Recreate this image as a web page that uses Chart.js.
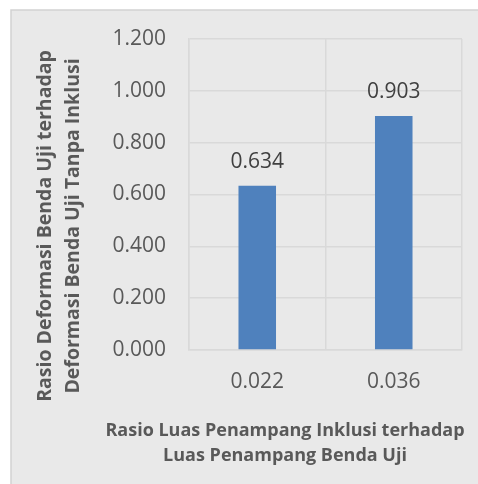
<!DOCTYPE html>
<html>
<head>
<meta charset="utf-8">
<script src="https://cdn.jsdelivr.net/npm/chart.js@4"></script>
<style>
  html, body { margin: 0; padding: 0; background: #fff; }
  #wrap { width: 478px; height: 484px; }
</style>
</head>
<body>
<div id="wrap"><canvas id="chartRasio" width="478" height="484"></canvas></div>
<script>
// data
const categories = ['0.022', '0.036'];
const rasioDeformasi = [0.634, 0.903];
const yTitleLines = ['Rasio Deformasi Benda Uji terhadap', 'Deformasi Benda Uji Tanpa Inklusi'];
const xTitleLines = ['Rasio Luas Penampang Inklusi terhadap', 'Luas Penampang Benda Uji'];

const fontName = '"Open Sans", sans-serif';
const gridColor = '#d9d9d9';

// gray chart box with a thin border on left/top
const boxPlugin = {
    id: 'box',
    beforeDraw(chart) {
        let ctx = chart.ctx;
        ctx.save();
        ctx.fillStyle = '#e9e9e9';
        ctx.fillRect(11, 10, chart.width - 11, chart.height - 10);
        ctx.strokeStyle = '#d2d2d2';
        ctx.lineWidth = 1.5;
        ctx.strokeRect(11, 10, chart.width - 10, chart.height - 9);
        ctx.restore();
    }
};

// value labels above bars + both axis titles
const labelPlugin = {
    id: 'labels',
    afterDatasetsDraw(chart) {
        let ctx = chart.ctx;
        ctx.save();
        ctx.font = '21px ' + fontName;
        ctx.fillStyle = '#404040';
        ctx.textAlign = 'center';
        ctx.textBaseline = 'alphabetic';
        chart.getDatasetMeta(0).data.forEach((bar, i) => {
            ctx.fillText(rasioDeformasi[i].toFixed(3), bar.x, bar.y - 18);
        });

        ctx.font = 'bold 18px ' + fontName;
        ctx.fillStyle = '#595959';
        ctx.textBaseline = 'middle';
        xTitleLines.forEach((line, i) => {
            ctx.fillText(line, 285, 431 + i * 25);
        });

        ctx.font = 'bold 19.5px ' + fontName;
        ctx.translate(0, 226);
        ctx.rotate(-Math.PI / 2);
        yTitleLines.forEach((line, i) => {
            ctx.fillText(line, 0, 45 + i * 28);
        });
        ctx.restore();
    }
};

let ctxRasio = document.getElementById('chartRasio').getContext('2d');

let chartRasio = new Chart(ctxRasio, {
    type: 'bar',
    data: {
        labels: categories,
        datasets: [{
            data: rasioDeformasi,
            backgroundColor: '#4f81bd',
            barPercentage: 0.55,
            categoryPercentage: 0.5
        }]
    },
    options: {
        responsive: false,
        animation: false,
        layout: {
            padding: { left: 100, top: 39, right: 16, bottom: 84 }
        },
        plugins: {
            legend: { display: false },
            tooltip: { enabled: false }
        },
        scales: {
            x: {
                grid: { color: gridColor, lineWidth: 1.5, drawTicks: false },
                border: { color: gridColor, width: 1.5 },
                ticks: { color: '#595959', font: { family: fontName, size: 21 }, padding: 19 },
                afterFit: (s) => { s.height = 50; }
            },
            y: {
                min: 0,
                max: 1.2,
                grid: { color: gridColor, lineWidth: 1.5, drawTicks: false },
                border: { color: gridColor, width: 1.5 },
                ticks: {
                    stepSize: 0.2,
                    color: '#595959',
                    font: { family: fontName, size: 21 },
                    padding: 23,
                    callback: (v) => v.toFixed(3)
                },
                afterFit: (s) => { s.width = 89; }
            }
        }
    },
    plugins: [boxPlugin, labelPlugin]
});
</script>
</body>
</html>
